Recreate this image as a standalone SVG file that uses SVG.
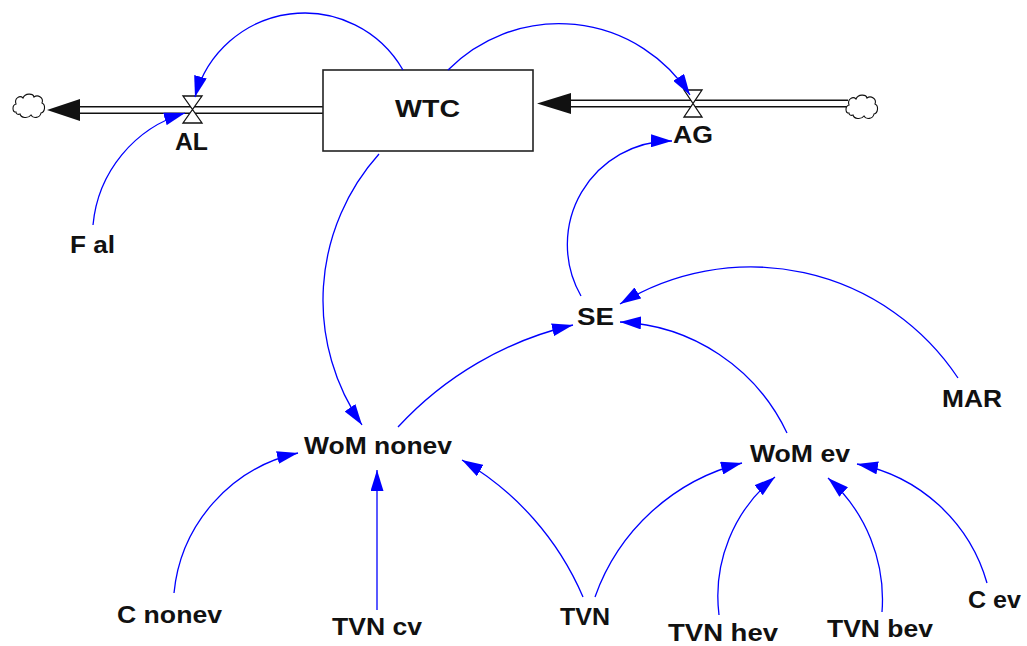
<svg xmlns="http://www.w3.org/2000/svg" width="1027" height="646" viewBox="0 0 1027 646">
  <style>
    .lbl { font-family: "Liberation Sans", Arial, sans-serif; font-weight: bold; font-size: 23px; fill: #111; }
    .link { fill: none; stroke: #0000ff; stroke-width: 1.3; marker-end: url(#arrow); }
    .pipe-out { fill: none; stroke: #111; stroke-width: 8; }
    .pipe-in { fill: none; stroke: #fff; stroke-width: 5; }
    .valve { fill: #fff; stroke: #111; stroke-width: 1.3; stroke-linejoin: miter; }
    .cloud { fill: #fff; stroke: #111; stroke-width: 1.1; }
  </style>
  <defs>
    <marker id="arrow" viewBox="0 0 21 13" refX="21" refY="6.5" markerWidth="21" markerHeight="13" markerUnits="userSpaceOnUse" orient="auto">
      <path d="M0,0 L21,6.5 L0,13 Z" fill="#0000ff"/>
    </marker>
    <path id="cloudShape" d="M4,20 C0,20 0,13 4,12 C2,6 8,3 11,6 C13,1 21,1 22,5 C26,2 32,6 30,11 C34,13 33,20 29,21 C28,26 21,27 19,23 C16,27 9,26 8,22 C6,23 4,22 4,20 Z"/>
  </defs>

  <rect width="1027" height="646" fill="#fff"/>

  <!-- flow pipes with their heads -->
  <g id="flows">
    <path class="pipe-out" d="M78,110 H323"/>
    <path class="pipe-in" d="M78,110 H323"/>
    <polygon points="47,110 80,99 80,121" fill="#111"/>
    <path class="pipe-out" d="M569,103.5 H848"/>
    <path class="pipe-in" d="M569,103.5 H848"/>
    <polygon points="537,103.5 571,93 571,114" fill="#111"/>
  </g>

  <g id="cloud-sink">
    <use href="#cloudShape" class="cloud" transform="translate(12,92)"/>
  </g>
  <g id="cloud-source">
    <use href="#cloudShape" class="cloud" transform="translate(845,93)"/>
  </g>

  <g id="WTC">
    <rect x="323" y="70" width="210" height="81" fill="#fff" stroke="#222" stroke-width="1.6"/>
    <text class="lbl" x="395" y="117" textLength="65" lengthAdjust="spacingAndGlyphs">WTC</text>
  </g>

  <g id="AL">
    <path class="valve" d="M183,96 H202 L183,123 H202 Z"/>
    <text class="lbl" x="175" y="150" textLength="33" lengthAdjust="spacingAndGlyphs">AL</text>
  </g>

  <g id="AG">
    <path class="valve" d="M684,90 H702 L684,117 H702 Z"/>
    <text class="lbl" x="673" y="143" textLength="40" lengthAdjust="spacingAndGlyphs">AG</text>
  </g>

  <g id="F_al">
    <text class="lbl" x="70" y="253" textLength="45" lengthAdjust="spacingAndGlyphs">F al</text>
  </g>
  <g id="SE">
    <text class="lbl" x="577" y="325" textLength="37" lengthAdjust="spacingAndGlyphs">SE</text>
  </g>
  <g id="MAR">
    <text class="lbl" x="942" y="407" textLength="60" lengthAdjust="spacingAndGlyphs">MAR</text>
  </g>
  <g id="WoM_nonev">
    <text class="lbl" x="304" y="454" textLength="148" lengthAdjust="spacingAndGlyphs">WoM nonev</text>
  </g>
  <g id="WoM_ev">
    <text class="lbl" x="750" y="462" textLength="100" lengthAdjust="spacingAndGlyphs">WoM ev</text>
  </g>
  <g id="C_nonev">
    <text class="lbl" x="117" y="623" textLength="105" lengthAdjust="spacingAndGlyphs">C nonev</text>
  </g>
  <g id="TVN_cv">
    <text class="lbl" x="332" y="635" textLength="90" lengthAdjust="spacingAndGlyphs">TVN cv</text>
  </g>
  <g id="TVN">
    <text class="lbl" x="560" y="625" textLength="50" lengthAdjust="spacingAndGlyphs">TVN</text>
  </g>
  <g id="TVN_hev">
    <text class="lbl" x="668" y="641" textLength="110" lengthAdjust="spacingAndGlyphs">TVN hev</text>
  </g>
  <g id="TVN_bev">
    <text class="lbl" x="827" y="637" textLength="106" lengthAdjust="spacingAndGlyphs">TVN bev</text>
  </g>
  <g id="C_ev">
    <text class="lbl" x="968" y="608" textLength="53" lengthAdjust="spacingAndGlyphs">C ev</text>
  </g>

  <!-- causal links -->
  <g id="connectors">
    <path class="link" d="M403,70 A113.5,113.5 0 0 0 195,97"/>
    <path class="link" d="M448,70 A156,156 0 0 1 690,95"/>
    <path class="link" d="M93,225 A129,129 0 0 1 185,113"/>
    <path class="link" d="M379,154 A219,219 0 0 0 362,425"/>
    <path class="link" d="M581,296 A103.6,103.6 0 0 1 672,141"/>
    <path class="link" d="M958,378 A249,249 0 0 0 620,304"/>
    <path class="link" d="M398,427 A344,344 0 0 1 573,325"/>
    <path class="link" d="M787,433 A194,194 0 0 0 620,322"/>
    <path class="link" d="M174,593 A159,159 0 0 1 298,453"/>
    <path class="link" d="M377,610 L377,470"/>
    <path class="link" d="M583,597 A291,291 0 0 0 462,460"/>
    <path class="link" d="M595,597 A211,211 0 0 1 742,463"/>
    <path class="link" d="M719,615 A153,153 0 0 1 775,477"/>
    <path class="link" d="M882,612 A163,163 0 0 0 828,478"/>
    <path class="link" d="M987,583 A168,168 0 0 0 857,464"/>
  </g>
</svg>
